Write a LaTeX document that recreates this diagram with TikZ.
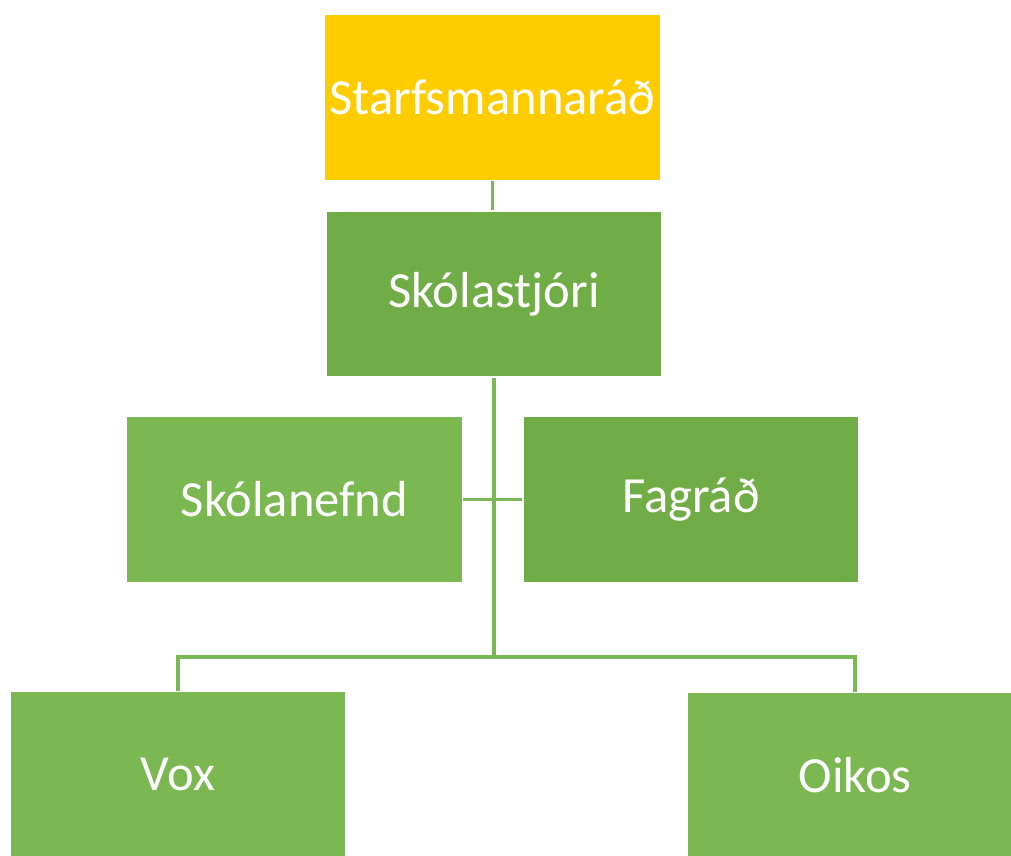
\documentclass[tikz,border=0pt]{standalone}
\usepackage{fontspec}
\setmainfont{Carlito}
\definecolor{myyellow}{RGB}{255,204,0}
\definecolor{mygreen}{RGB}{112,173,71}
\definecolor{mylight}{RGB}{124,184,82}
\definecolor{mylink}{RGB}{122,184,85}
\tikzset{
    every node/.style={draw=white,line width=1pt,text=white,font=\fontsize{36}{42}\selectfont},
    box/.style={rectangle, minimum width=8.4cm, minimum height=4.15cm, inner sep=0pt},
    boss/.style={fill=myyellow},
    dark/.style={fill=mygreen},
    light/.style={fill=mylight},
    link/.style={draw=mylink, line width=2.6pt}
}

\begin{document}
\begin{tikzpicture}[x=0.025cm,y=-0.025cm]
\useasboundingbox (0,0) rectangle (1011,855);
\clip (0,0) rectangle (1011,855);

\node[box,boss] at (492.5,97.5) (staff) {Starfsmannaráð};
\node[box,dark] at (494,294) (head) {Skólastjóri};

\node[box,light] at (294.5,499.5) (board) {Skólanefnd};
\node[box,dark] at (691,499.5) (council) {Fagráð};

\node[box,light] at (178,774.5) (vox) {Vox};
\node[box,light] at (855,775.5) (oikos) {Oikos};

\coordinate (hub) at (494,657);
\draw[link] (staff.south) -- (staff.south |- head.north);
\draw[link] (head.south) -- (hub);
\draw[link] (board.east) -- (council.west);
\draw[link] (vox.north) |- (hub) -| (oikos.north);
\end{tikzpicture}
\end{document}
